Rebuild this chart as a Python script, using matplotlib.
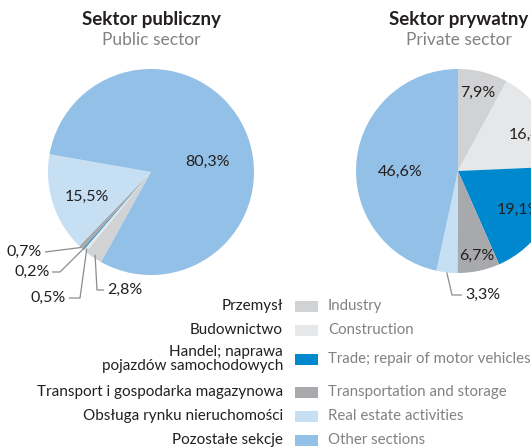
import numpy as np
import matplotlib.pyplot as plt
from matplotlib.patches import Rectangle

plt.rcParams['font.family'] = ['Lato', 'DejaVu Sans']

W, H = 531, 447

# dane
sectors_pl = ['Przemysł', 'Budownictwo', 'Handel; naprawa\npojazdów samochodowych',
              'Transport i gospodarka magazynowa', 'Obsługa rynku nieruchomości',
              'Pozostałe sekcje']
sectors_en = ['Industry', 'Construction', 'Trade; repair of motor vehicles',
              'Transportation and storage', 'Real estate activities', 'Other sections']
public_share = [2.8, 0.5, 0.2, 0.7, 15.5, 80.3]
private_share = [7.9, 16.4, 19.1, 6.7, 3.3, 46.6]

colors = ['#d1d2d4', '#e6e7e8', '#0088cf', '#a7a9ac', '#c6dff3', '#93c0e6']
dark = '#231f20'
grey = '#808285'
line_c = '#8a8c8e'


def py(y):
    # piksele od gory -> wspolrzedne osi
    return H - y


def pct(v):
    return f"{v:.1f}".replace('.', ',') + '%'


fig = plt.figure(figsize=(W / 100, H / 100), dpi=100)
ax = fig.add_axes([0, 0, 1, 1])


def draw_pie(values, center, radius, start, inside, outside):
    cx, cy = center[0], py(center[1])
    wedges, _ = ax.pie(values, colors=colors, startangle=start, counterclock=False,
                       center=(cx, cy), radius=radius, frame=True,
                       wedgeprops=dict(linewidth=0))
    for i, w in enumerate(wedges):
        mid = np.deg2rad((w.theta1 + w.theta2) / 2)
        if i in inside:
            d_ang, f = inside[i]
            a = mid + np.deg2rad(d_ang)
            ax.text(cx + f * radius * np.cos(a), cy + f * radius * np.sin(a),
                    pct(values[i]), ha='center', va='center', fontsize=11.5, color=dark)
        elif i in outside:
            f, pts, (tx, ty), ha = outside[i]
            xs = [cx + f * radius * np.cos(mid)] + [p[0] for p in pts]
            ys = [cy + f * radius * np.sin(mid)] + [py(p[1]) for p in pts]
            ax.plot(xs, ys, color=line_c, lw=0.9, solid_capstyle='butt')
            ax.text(tx, py(ty), pct(values[i]), ha=ha, va='center',
                    fontsize=11.5, color=dark)


# sektor publiczny
draw_pie(public_share, (151, 172), 103, 241,
         inside={4: (3.6, 0.67), 5: (-15.5, 0.56)},
         outside={3: (1.0, [(45, 252)], (42, 252), 'right'),
                  2: (0.97, [(60, 272), (52, 272)], (50, 272), 'right'),
                  1: (0.97, [(80, 298), (69, 298)], (66, 298), 'right'),
                  0: (0.97, [(97, 290), (104, 290)], (107, 290), 'left')})

# sektor prywatny
draw_pie(private_share, (458, 171), 102, 90,
         inside={0: (0, 0.79), 1: (-6, 0.8), 2: (-1, 0.71), 3: (1, 0.85), 5: (7, 0.57)},
         outside={4: (1.0, [(452, 295), (462, 295)], (465, 295), 'left')})

# tytuly
for x, t_pl, t_en in [(151, 'Sektor publiczny', 'Public sector'),
                      (459, 'Sektor prywatny', 'Private sector')]:
    ax.text(x, py(20), t_pl, ha='center', va='center', fontsize=13.5,
            fontweight='bold', color=dark)
    ax.text(x, py(40), t_en, ha='center', va='center', fontsize=12.5, color=grey)

# legenda
rows_y = [306, 330, 359, 392, 416, 440]
for y, pl, en, c in zip(rows_y, sectors_pl, sectors_en, colors):
    ax.text(283, py(y), pl, ha='right', va='center', fontsize=11, color=dark,
            linespacing=0.95)
    ax.add_patch(Rectangle((295, py(y) - 5.5), 23, 11, facecolor=c, edgecolor='none'))
    ax.text(328, py(y), en, ha='left', va='center', fontsize=10.8, color=grey)

ax.set_xlim(0, W)
ax.set_ylim(0, H)
ax.axis('off')

fig.savefig('out.png', dpi=100)
